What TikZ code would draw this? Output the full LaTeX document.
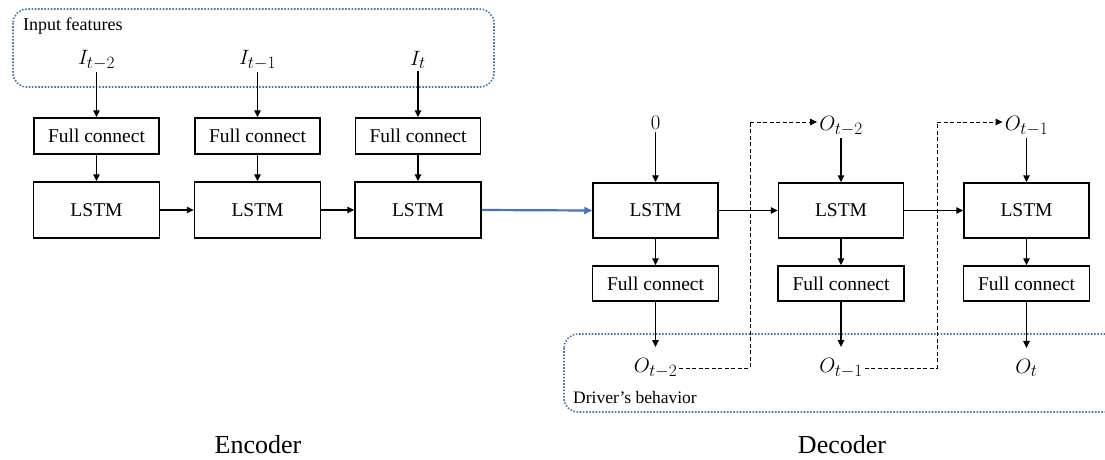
\documentclass[tikz,border=0pt]{standalone}
\usepackage{fontspec}
\setmainfont{Liberation Serif}
\usetikzlibrary{arrows.meta}
\DeclareMathSizes{22}{22}{16.5}{12}
\definecolor{dotblue}{RGB}{70,120,175}
\definecolor{arrblue}{RGB}{68,114,196}
\tikzset{
  fcbox/.style={draw, line width=1.5pt, minimum width=125pt, minimum height=36pt, inner sep=0pt, font=\rmfamily\fontsize{19.5}{22}\selectfont},
  lstmbox/.style={draw, line width=1.5pt, minimum width=126pt, minimum height=56pt, inner sep=0pt, font=\rmfamily\fontsize{19.5}{22}\selectfont},
  mlabel/.style={inner sep=2pt, font=\fontsize{22}{26}\selectfont},
  conn/.style={line width=1.4pt, -{Triangle[length=7pt,width=6.5pt]}},
  dconn/.style={line width=0.9pt, dash pattern=on 4pt off 2.5pt, -{Triangle[length=7pt,width=6.5pt]}},
  dashline/.style={line width=0.9pt, dash pattern=on 4pt off 2.5pt},
  groupbox/.style={draw=dotblue, line width=1.6pt, dash pattern=on 1.6pt off 1.6pt, rounded corners=14pt},
  smalltext/.style={inner sep=0pt, anchor=west},
  bigtext/.style={inner sep=0pt, font=\rmfamily\fontsize{26}{30}\selectfont}
}
\begin{document}
\begin{tikzpicture}[x=1pt,y=-1pt]
\useasboundingbox (0,0) rectangle (1105,459);
% group boxes
\draw[groupbox] (13,9) rectangle (494,87);
\node[smalltext, font=\rmfamily\fontsize{18}{20}\selectfont] (inlab) at (23,26) {Input features};
\begin{scope}
\clip (0,0) rectangle (1105,459);
\draw[groupbox] (564,334) rectangle (1120,412);
\end{scope}
\node[smalltext, font=\rmfamily\fontsize{17.5}{20}\selectfont] (drvlab) at (573,398) {Driver’s behavior};

% encoder
\foreach \i/\x/\lab in {1/96.5/{I_{t-2}}, 2/257.5/{I_{t-1}}, 3/418/{I_{t}}} {
  \node[mlabel] (I\i) at (\x,60) {$\lab$};
  \node[fcbox] (efc\i) at (\x,136) {Full connect};
  \node[lstmbox] (el\i) at (\x,210) {LSTM};
  \draw[conn] (I\i.south) -- (efc\i.north);
  \draw[conn] (efc\i.south) -- (el\i.north);
}
\draw[conn] (el1.east) -- (el2.west);
\draw[conn] (el2.east) -- (el3.west);

% decoder
\node[mlabel] (Z) at (655.5,123) {$0$};
\node[mlabel] (Ot2) at (841,126) {$O_{t-2}$};
\node[mlabel] (Ot1) at (1026.5,126) {$O_{t-1}$};
\foreach \i/\x/\lab in {1/655.5/{O_{t-2}}, 2/841/{O_{t-1}}, 3/1026.5/{O_{t}}} {
  \node[lstmbox, minimum width=125pt, minimum height=55pt] (dl\i) at (\x,210.5) {LSTM};
  \node[fcbox, minimum width=126pt, minimum height=35pt] (dfc\i) at (\x,283.5) {Full connect};
  \node[mlabel] (Ob\i) at (\x,368) {$\lab$};
  \draw[conn] (dl\i.south) -- (dfc\i.north);
  \draw[conn, shorten >=9pt] (dfc\i.south) -- (Ob\i.north);
}
\draw[conn] (Z.south) -- (dl1.north);
\draw[conn] (Ot2.south) -- (dl2.north);
\draw[conn] (Ot1.south) -- (dl3.north);
\draw[conn] (dl1.east) -- (dl2.west);
\draw[conn] (dl2.east) -- (dl3.west);

% encoder -> decoder
\draw[line width=2.2pt, draw=arrblue, -{Triangle[length=8pt,width=7pt]}, arrblue] (el3.east) -- (dl1.west);

% feedback dashed
\coordinate (fb1) at (750,122);
\coordinate (fb2) at (937,122);
\draw[dashline] (Ob1.east) -| (fb1);
\draw[dconn] (fb1) -- (fb1 -| Ot2.west);
\draw[dashline] (Ob2.east) -| (fb2);
\draw[dconn] (fb2) -- (fb2 -| Ot1.west);

% captions
\node[bigtext] (enc) at (258,445) {Encoder};
\node[bigtext] (dec) at (842,445) {Decoder};
\end{tikzpicture}
\end{document}
